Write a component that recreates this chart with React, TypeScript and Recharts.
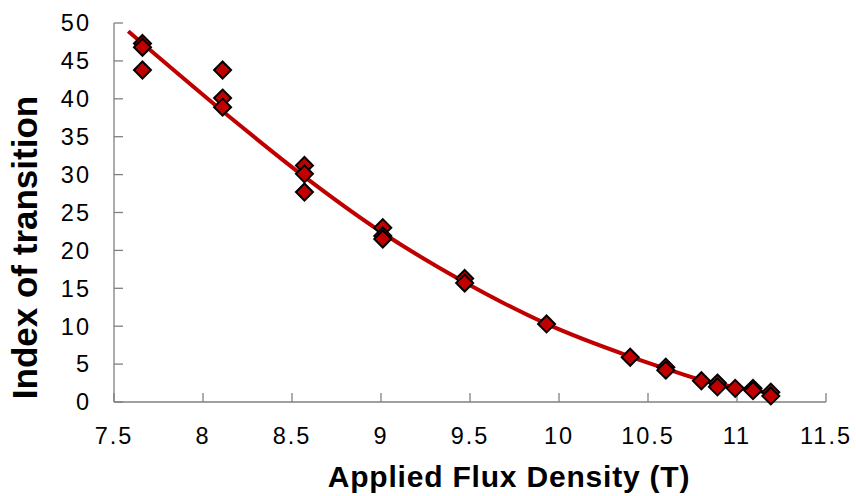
import { ComposedChart, Scatter, Line, XAxis, YAxis } from "recharts";

// measured points (diamonds)
const pointX = [
  7.66, 7.66, 7.66, 8.11, 8.11, 8.11, 8.57, 8.57, 8.57, 9.01, 9.01, 9.01,
  9.47, 9.47, 9.93, 10.4, 10.6, 10.6, 10.8, 10.89, 10.89, 10.99, 11.09, 11.09,
  11.19, 11.19,
];
const pointY = [
  47.3, 46.8, 43.8, 43.8, 40.1, 38.9, 31.2, 30.1, 27.7, 23.0, 21.9, 21.5,
  16.3, 15.7, 10.3, 5.9, 4.6, 4.2, 2.8, 2.5, 2.0, 1.8, 1.8, 1.5, 1.3, 0.8,
];

// fitted curve
const fitX = [7.58, 7.67, 8.15, 8.56, 9.01, 9.47, 9.93, 10.4, 10.6, 10.8, 11.0, 11.21];
const fitY = [48.9, 47.1, 37.6, 29.9, 22.3, 15.8, 10.3, 6.0, 4.4, 2.9, 1.9, 1.1];

const xTicks = [7.5, 8, 8.5, 9, 9.5, 10, 10.5, 11, 11.5];
const yTicks = [0, 5, 10, 15, 20, 25, 30, 35, 40, 45, 50];

const points = pointX.map((x, i) => ({ x, y: pointY[i] }));
const fit = fitX.map((x, i) => ({ x, y: fitY[i] }));

const RED = "#C00000";
const AXIS = "#808080";
const LIGHT = "#b0b0b0";
const FONT = '"Liberation Sans", Arial, sans-serif';

const tickStyle = { fontSize: 23.5, fill: "#000", fontFamily: FONT, letterSpacing: 2 };

const NoLabel = () => <g />;

function Diamond(props: any) {
  const { cx, cy } = props;
  const r = 8.5;
  return (
    <polygon
      points={`${cx},${cy - r} ${cx + r},${cy} ${cx},${cy + r} ${cx - r},${cy}`}
      fill={RED}
      stroke="#000"
      strokeWidth={2}
    />
  );
}

function XTitle(props: any) {
  const { viewBox } = props;
  const x = viewBox.x + viewBox.width / 2 + 39;
  const y = viewBox.y + 85;
  return (
    <text
      x={x}
      y={y}
      textAnchor="middle"
      fontFamily={FONT}
      fontWeight="bold"
      fontSize={30}
      letterSpacing={0.8}
      fill="#000"
    >
      Applied Flux Density (T)
    </text>
  );
}

function YTitle(props: any) {
  const { viewBox } = props;
  const x = viewBox.x + 37;
  const y = viewBox.y + viewBox.height / 2 + 35;
  return (
    <text
      x={x}
      y={y}
      transform={`rotate(-90, ${x}, ${y})`}
      textAnchor="middle"
      fontFamily={FONT}
      fontWeight="bold"
      fontSize={35}
      fill="#000"
    >
      Index of transition
    </text>
  );
}

export default function App() {
  return (
    <div style={{ position: "absolute", left: 0, top: 0, background: "#fff" }}>
      <ComposedChart
        width={856}
        height={496}
        margin={{ top: 23, right: 30, left: 0, bottom: 0 }}
      >
        <XAxis
          type="number"
          dataKey="x"
          domain={[7.5, 11.5]}
          ticks={xTicks}
          interval={0}
          height={94}
          tick={tickStyle}
          tickSize={-9}
          tickMargin={34}
          axisLine={{ stroke: AXIS, strokeWidth: 1.3 }}
          tickLine={{ stroke: AXIS, strokeWidth: 1.3 }}
          label={XTitle}
        />
        <XAxis
          xAxisId="top"
          orientation="top"
          type="number"
          dataKey="x"
          domain={[7.5, 11.5]}
          ticks={xTicks}
          interval={0}
          height={0}
          tick={NoLabel}
          tickSize={-6}
          axisLine={{ stroke: LIGHT, strokeWidth: 1.3 }}
          tickLine={{ stroke: LIGHT, strokeWidth: 1.3 }}
        />
        <YAxis
          type="number"
          dataKey="y"
          domain={[0, 50]}
          ticks={yTicks}
          interval={0}
          width={114}
          tick={tickStyle}
          tickSize={-9}
          tickMargin={32}
          axisLine={{ stroke: AXIS, strokeWidth: 1.3 }}
          tickLine={{ stroke: AXIS, strokeWidth: 1.3 }}
          label={YTitle}
        />
        <YAxis
          yAxisId="right"
          orientation="right"
          type="number"
          domain={[0, 50]}
          ticks={yTicks}
          interval={0}
          width={0}
          tick={NoLabel}
          tickSize={-6}
          axisLine={{ stroke: AXIS, strokeWidth: 1.3 }}
          tickLine={{ stroke: LIGHT, strokeWidth: 1.3 }}
        />
        <Scatter data={points} shape={Diamond} isAnimationActive={false} />
        <Line
          data={fit}
          dataKey="y"
          type="monotone"
          stroke={RED}
          strokeWidth={4}
          dot={false}
          activeDot={false}
          isAnimationActive={false}
        />
      </ComposedChart>
    </div>
  );
}
